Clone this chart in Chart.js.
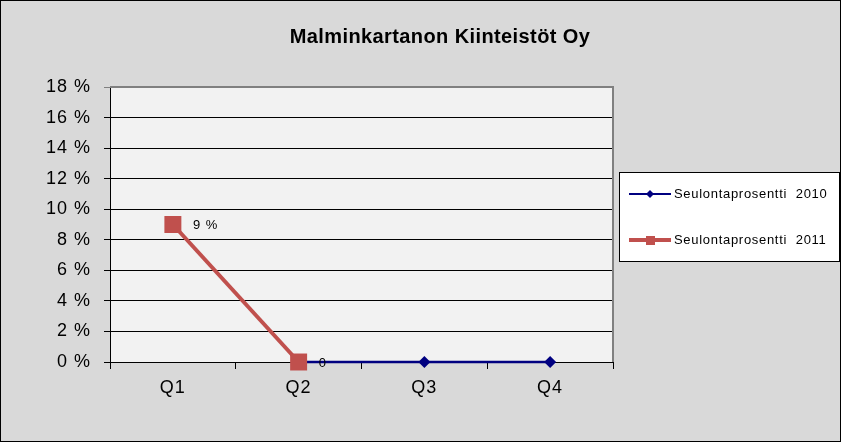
<!DOCTYPE html>
<html>
<head>
<meta charset="utf-8">
<script src="https://cdn.jsdelivr.net/npm/chart.js@4"></script>
<style>
  html, body { margin: 0; padding: 0; background: #d9d9d9; }
  #wrap { width: 841px; height: 442px; }
</style>
</head>
<body>
<div id="wrap"><canvas id="myChart" width="841" height="442"></canvas></div>
<script>
const ctx = document.getElementById('myChart');

const labels = ['Q1', 'Q2', 'Q3', 'Q4'];
const seulonta2010 = [null, 0, 0, 0];
const seulonta2011 = [9, 0, null, null];
const yTicks = [0, 2, 4, 6, 8, 10, 12, 14, 16, 18];

const FONT = 'Liberation Sans, Arial, sans-serif';

// background, plot area, frame, title, legend and value labels
const decor = {
  id: 'decor',
  beforeDraw(chart) {
    const c = chart.ctx, a = chart.chartArea;
    c.letterSpacing = '1px';
    c.save();
    c.fillStyle = '#d9d9d9';
    c.fillRect(0, 0, chart.width, chart.height);
    c.fillStyle = '#f2f2f2';
    c.fillRect(a.left, a.top, a.right - a.left, a.bottom - a.top);
    c.restore();
  },
  afterDraw(chart) {
    const c = chart.ctx, a = chart.chartArea;
    c.save();
    // gray frame top/right of plot
    c.strokeStyle = '#808080';
    c.lineWidth = 2;
    c.beginPath();
    c.moveTo(a.left, a.top);
    c.lineTo(a.right, a.top);
    c.lineTo(a.right, a.bottom);
    c.stroke();

    // outer border
    c.strokeStyle = '#000';
    c.lineWidth = 1;
    c.strokeRect(0.5, 0.5, chart.width - 1, chart.height - 1);

    // title
    c.fillStyle = '#000';
    c.letterSpacing = '0.4px';
    c.font = 'bold 20px ' + FONT;
    c.textAlign = 'center';
    c.textBaseline = 'middle';
    c.fillText('Malminkartanon Kiinteistöt Oy', 440, 37);

    // value labels for 2011
    const meta = chart.getDatasetMeta(1);
    const texts = ['9 %', '0'];
    c.letterSpacing = '1px';
    c.font = '13px ' + FONT;
    c.textAlign = 'left';
    meta.data.forEach((p, i) => {
      if (seulonta2011[i] === null) return;
      c.fillText(texts[i], p.x + 20, p.y + 1);
    });

    // legend
    c.fillStyle = '#fff';
    c.fillRect(619.5, 172.5, 220, 89);
    c.strokeStyle = '#000';
    c.strokeRect(619.5, 172.5, 220, 89);
    const rows = [
      {y: 194, color: '#000080', w: 2, text: 'Seulontaprosentti  2010', marker: 'diamond'},
      {y: 240, color: '#C0504D', w: 4, text: 'Seulontaprosentti  2011', marker: 'square'}
    ];
    rows.forEach(r => {
      c.strokeStyle = r.color;
      c.lineWidth = r.w;
      c.beginPath();
      c.moveTo(629, r.y);
      c.lineTo(671, r.y);
      c.stroke();
      c.fillStyle = r.color;
      if (r.marker === 'diamond') {
        c.beginPath();
        c.moveTo(650, r.y - 4);
        c.lineTo(654, r.y);
        c.lineTo(650, r.y + 4);
        c.lineTo(646, r.y);
        c.closePath();
        c.fill();
      } else {
        c.fillRect(646, r.y - 4, 9, 9);
      }
      c.fillStyle = '#000';
      c.letterSpacing = '0.7px';
      c.font = '13px ' + FONT;
      c.textAlign = 'left';
      c.fillText(r.text, 674, r.y);
    });
    c.restore();
  }
};

const data = {
  labels: labels,
  datasets: [
    {
      label: 'Seulontaprosentti  2010',
      data: seulonta2010,
      borderColor: '#000080',
      backgroundColor: '#000080',
      borderWidth: 2.5,
      pointStyle: 'rectRot',
      pointRadius: 6,
      pointBorderWidth: 0,
      clip: false,
      order: 1
    },
    {
      label: 'Seulontaprosentti  2011',
      data: seulonta2011,
      borderColor: '#C0504D',
      backgroundColor: '#C0504D',
      borderWidth: 4,
      pointStyle: 'rect',
      pointRadius: 12,
      pointBorderWidth: 0,
      clip: false,
      order: 0
    }
  ]
};

const config = {
  type: 'line',
  data: data,
  options: {
    responsive: false,
    animation: false,
    layout: {padding: {left: 0, top: 87, right: 228, bottom: 0}},
    scales: {
      x: {
        offset: true,
        grid: {offset: true, drawOnChartArea: false, color: '#000', tickLength: 7},
        border: {color: '#000', width: 1},
        ticks: {color: '#000', font: {family: FONT, size: 18}, padding: 8},
        afterFit(s) { s.height = 80; }
      },
      y: {
        min: 0,
        max: 18,
        afterBuildTicks(s) { s.ticks = yTicks.map(v => ({value: v})); },
        grid: {
          color: c => c.tick && c.tick.value === 18 ? '#808080' : '#000',
          tickLength: 6
        },
        border: {color: '#000', width: 1},
        ticks: {
          color: '#000',
          font: {family: FONT, size: 18},
          padding: 13,
          callback: v => v + ' %'
        },
        afterFit(s) { s.width = 110; }
      }
    },
    plugins: {
      legend: {display: false},
      title: {display: false},
      tooltip: {enabled: false}
    }
  },
  plugins: [decor]
};

const myChart = new Chart(ctx, config);
</script>
</body>
</html>
